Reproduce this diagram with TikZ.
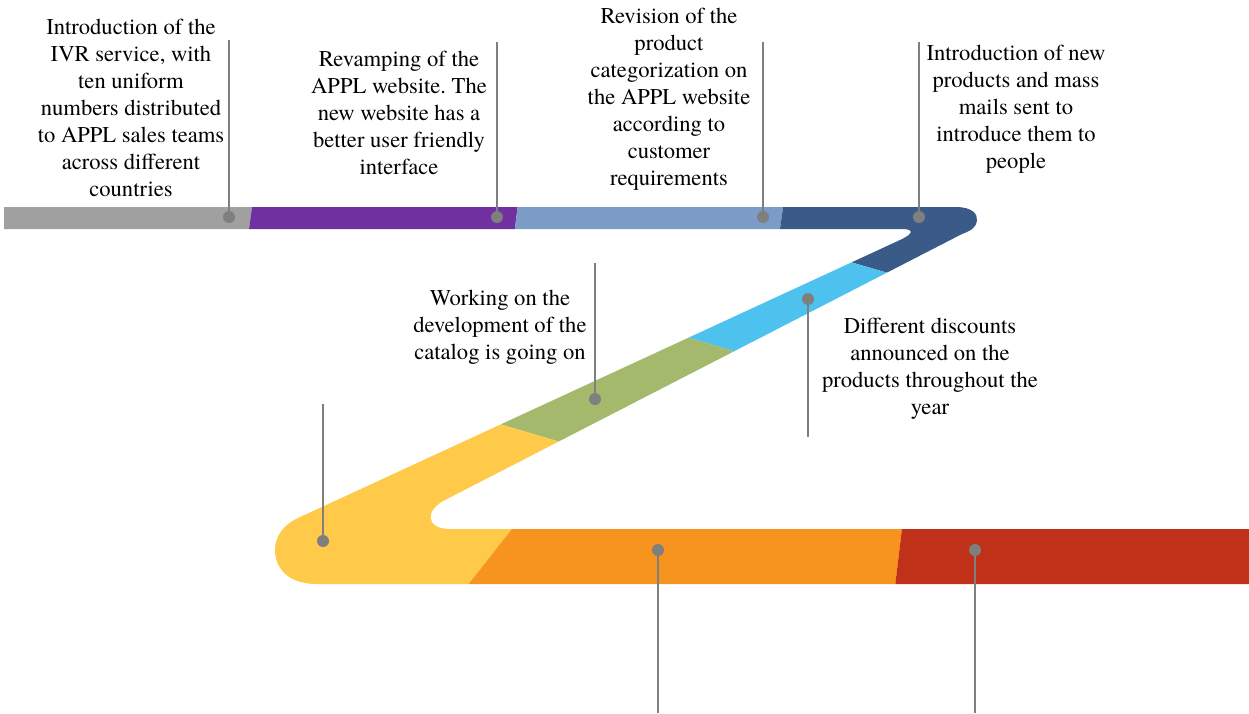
\documentclass[tikz,border=0pt]{standalone}
\usepackage{fontspec}
\setmainfont{texgyretermes}[Extension=.otf, UprightFont=*-regular, BoldFont=*-bold, ItalicFont=*-italic, BoldItalicFont=*-bolditalic]
\frenchspacing
\definecolor{cgray}{HTML}{A0A0A0}
\definecolor{cpurple}{HTML}{7030A0}
\definecolor{clblue}{HTML}{7B9CC6}
\definecolor{cdblue}{HTML}{3A5B87}
\definecolor{ccyan}{HTML}{4DC2EE}
\definecolor{cgreen}{HTML}{A4B96B}
\definecolor{cyellow}{HTML}{FFC94A}
\definecolor{corange}{HTML}{F7941F}
\definecolor{cred}{HTML}{C0311A}
\definecolor{dotgray}{HTML}{7F7F7F}
\tikzset{
  dotnode/.style={circle, fill=dotgray, minimum size=12pt, inner sep=0pt},
  lead/.style={draw=dotgray, line width=1.5pt},
  lbl/.style={align=center, font=\fontsize{22.6}{27}\selectfont, inner sep=0pt, text=black}
}
\begin{document}
\begin{tikzpicture}[x=1pt,y=-1pt]
\useasboundingbox (0,0) rectangle (1249,713);
\begin{scope}
\clip (4,207) -- (956,207) .. controls (972,207) and (978,214) .. (977,221)
  .. controls (976,228) and (970,231) .. (962,234)
  -- (445,500) .. controls (425,510) and (425,529) .. (450,529)
  -- (1249,529) -- (1249,584) -- (317,584)
  .. controls (285,584) and (275,565) .. (275,550)
  .. controls (275,535) and (285,524) .. (298,518)
  -- (900,240) .. controls (915,233) and (913,229) .. (902,229)
  -- (4,229) -- cycle;
\fill[cgray] (0,200) -- (253,200) -- (247.5,240) -- (0,240) -- cycle;
\fill[cpurple] (253,200) -- (518.5,200) -- (513.5,240) -- (247.5,240) -- cycle;
\fill[clblue] (518.5,200) -- (784,200) -- (778.5,240) -- (513.5,240) -- cycle;
\fill[cdblue] (784,200) -- (1000,200) -- (1000,300) -- (902,277) -- (840,259) -- (778.5,240) -- cycle;
\fill[ccyan] (840,259) -- (902,277) -- (747,355) -- (676,334) -- cycle;
\fill[cgreen] (676,334) -- (747,355) -- (574,446) -- (486,420) -- cycle;
\fill[cyellow] (486,420) -- (574,446) -- (519,520) -- (460,595) -- (250,595) -- (250,420) -- cycle;
\fill[corange] (519,520) -- (903,520) -- (894,595) -- (460,595) -- cycle;
\fill[cred] (903,520) -- (1260,520) -- (1260,595) -- (894,595) -- cycle;
\end{scope}
% dots and leader lines
\node[dotnode] (d1) at (229,217) {};
\node[dotnode] (d2) at (497,217) {};
\node[dotnode] (d3) at (763,217) {};
\node[dotnode] (d4) at (919,217) {};
\node[dotnode] (d5) at (808,299) {};
\node[dotnode] (d6) at (595,399) {};
\node[dotnode] (d7) at (323,541) {};
\node[dotnode] (d8) at (658,550) {};
\node[dotnode] (d9) at (975,550) {};
\coordinate (e1) at (229,40);
\coordinate (e2) at (497,42);
\coordinate (e3) at (763,42);
\coordinate (e4) at (919,42);
\coordinate (e5) at (808,437);
\coordinate (e6) at (595,263);
\coordinate (e7) at (323,404);
\coordinate (e8) at (658,713);
\coordinate (e9) at (975,713);
\foreach \i in {1,...,9} \draw[lead] (d\i.center) -- (e\i);
% labels
\node[lbl] (t1) at (131,108) {Introduction of the\\IVR service, with\\ten uniform\\numbers distributed\\to APPL sales teams\\across different\\countries};
\node[lbl] (t2) at (399,113) {Revamping of the\\APPL website. The\\new website has a\\better user friendly\\interface};
\node[lbl] (t3) at (669,99) {Revision of the\\product\\categorization on\\the APPL website\\according to\\customer\\requirements};
\node[lbl] (t4) at (1016,109) {Introduction of new\\products and mass\\mails sent to\\introduce them to\\people};
\node[lbl] (t5) at (500,327) {Working on the\\development of the\\catalog is going on};
\node[lbl] (t6) at (930,369) {Different discounts\\announced on the\\products throughout the\\year};
\end{tikzpicture}
\end{document}
